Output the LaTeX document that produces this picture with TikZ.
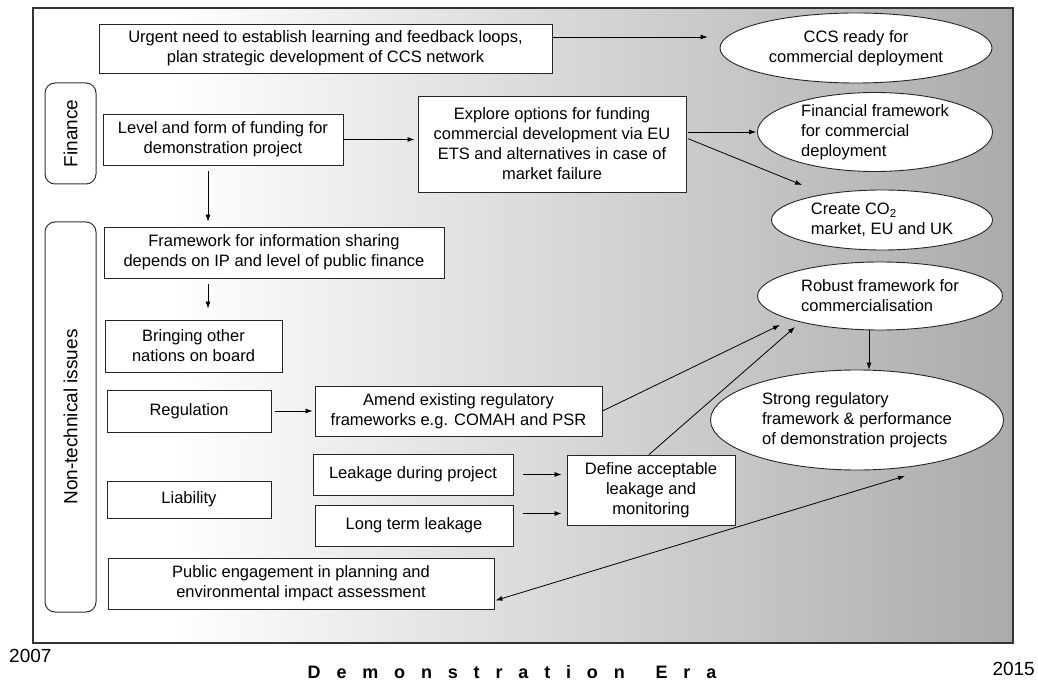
\documentclass[tikz,border=0pt]{standalone}
\usepackage{fontspec}
\setmainfont{Liberation Sans}
\usetikzlibrary{shapes.geometric,arrows.meta,calc}
\pgfdeclarehorizontalshading{eraShade}{100bp}{color(0bp)=(white); color(32bp)=(white); color(75bp)=(black!33); color(100bp)=(black!33)}
\begin{document}
\begin{tikzpicture}[x=1pt,y=-1pt,
  every node/.style={font=\fontsize{16.5}{20}\selectfont},
  box/.style={draw=black!85, fill=white, line width=0.9pt, align=center, inner sep=0pt},
  oval/.style={ellipse, draw=black!85, fill=white, line width=0.9pt, inner sep=0pt},
  lbl/.style={align=left, inner sep=0pt},
  side/.style={draw=black!80, line width=1pt, rounded corners=10pt, inner sep=0pt, font=\fontsize{19}{22}\selectfont},
  year/.style={inner sep=0pt, font=\fontsize{19}{22}\selectfont},
  arr/.style={-{Latex[length=7pt,width=5pt]}, line width=0.8pt},
  darr/.style={{Latex[length=7pt,width=5pt]}-{Latex[length=7pt,width=5pt]}, line width=0.8pt}]

\useasboundingbox (0,0) rectangle (1038,684);

% era frame
\shade[shading=eraShade] (33,8) rectangle (1013,643);
\draw[line width=2pt, draw=black!80] (33,8) rectangle (1013,643);

% side labels
\node[side, rotate=90, minimum width=101pt, minimum height=51pt] (finlab) at (70.5,133.5) {Finance};
\node[side, rotate=90, minimum width=390pt, minimum height=51pt] (ntlab) at (70.5,417) {Non-technical issues};

% boxes
\node[box, minimum width=453pt, minimum height=49pt] (urgent) at (325.5,48.5) {Urgent need to establish learning and feedback loops,\\plan strategic development of CCS network};
\node[box, minimum width=240pt, minimum height=51pt] (level) at (223,139.5) {Level and form of funding for\\demonstration project};
\node[box, minimum width=268pt, minimum height=96pt] (explore) at (552,144) {Explore options for funding\\commercial development via EU\\ETS and alternatives in case of\\market failure};
\node[box, minimum width=340pt, minimum height=51pt] (info) at (274,252.5) {Framework for information sharing\\depends on IP and level of public finance};
\node[box, minimum width=177pt, minimum height=52pt] (bring) at (193.5,346) {Bringing other\\nations on board};
\node[box, minimum width=164pt, minimum height=42pt] (regul) at (189,411) {Regulation};
\node[box, minimum width=287pt, minimum height=50pt] (amend) at (458.5,411) {Amend existing regulatory\\frameworks e.g. COMAH and PSR};
\node[box, minimum width=200pt, minimum height=41pt] (leakdur) at (413,474.5) {Leakage during project};
\node[box, minimum width=198pt, minimum height=41pt] (longterm) at (414,525.5) {Long term leakage};
\node[box, minimum width=164pt, minimum height=37pt] (liab) at (189,499.5) {Liability};
\node[box, minimum width=386pt, minimum height=51pt] (public) at (301,583.5) {Public engagement in planning and\\environmental impact assessment};
\node[box, minimum width=168pt, minimum height=70pt] (define) at (651,490) {Define acceptable\\leakage and\\monitoring};

% ellipses
\node[oval, minimum width=272pt, minimum height=70pt] (ccs) at (856,48) {};
\node[lbl, align=center] (ccst) at (ccs.center) {CCS ready for\\commercial deployment};
\node[oval, minimum width=235pt, minimum height=79pt] (fin) at (875,132) {};
\node[lbl] (fint) at (fin.center) {Financial framework\\for commercial\\deployment};
\node[oval, minimum width=221pt, minimum height=60pt] (co2) at (882,220) {};
\node[lbl] (co2t) at (co2.center) {Create CO\textsubscript{2}\\market, EU and UK};
\node[oval, minimum width=245pt, minimum height=68pt] (robust) at (880,296) {};
\node[lbl] (robustt) at (robust.center) {Robust framework for\\commercialisation};
\node[oval, minimum width=293pt, minimum height=100pt] (strong) at (857,420) {};
\node[lbl] (strongt) at (strong.center) {Strong regulatory\\framework \& performance\\of demonstration projects};

% helper points for connectors
\coordinate (levelS) at ($(level.south)+(-15,0)$);
\coordinate (infoS) at ($(info.south)+(-66,0)$);
\coordinate (longE) at ($(longterm.east)+(0,-12)$);
\coordinate (robS) at ($(robust.south)+(-11,0)$);

% connectors
\draw[arr] ($(urgent.east)+(0,-11.5)$) -- ($(ccs.west)+(-12,-11)$);
\draw[arr, shorten >=3pt] (level.east) -- (level.east -| explore.west);
\draw[arr, shorten <=2pt, shorten >=1pt] (explore.east |- fin.west) -- (fin.west);
\draw[arr, shorten <=2pt] ($(explore.east)+(0,-6)$) -- ($(co2.center)+(-80,-35)$);
\draw[arr, shorten <=6pt, shorten >=5pt] (levelS) -- (levelS |- info.north);
\draw[arr, shorten <=6pt, shorten >=11pt] (infoS) -- (infoS |- bring.north);
\draw[arr, shorten <=4pt, shorten >=2pt] (regul.east) -- (amend.west);
\draw[arr, shorten <=10pt, shorten >=5pt] (leakdur.east) -- (leakdur.east -| define.west);
\draw[arr, shorten <=10pt, shorten >=5pt] (longE) -- (longE -| define.west);
\draw[arr] (amend.east) -- ($(robust.center)+(-100,29)$);
\draw[arr] ($(define.north)+(-2,0)$) -- ($(robust.center)+(-85,31)$);
\draw[arr] (robS) -- (robS |- strong.north);
\draw[darr] ($(public.south east)+(1,-9)$) -- ($(strong.center)+(48,56)$);

% timeline
\node[year, anchor=west] (y1) at (9,656) {2007};
\node[year, anchor=east] (y2) at (1035,669) {2015};
\node[inner sep=0pt, font=\fontsize{18}{20}\selectfont\bfseries\addfontfeatures{LetterSpace=88}] (era) at (512,672) {Demonstration\hspace{10pt} Era};
\end{tikzpicture}
\end{document}
